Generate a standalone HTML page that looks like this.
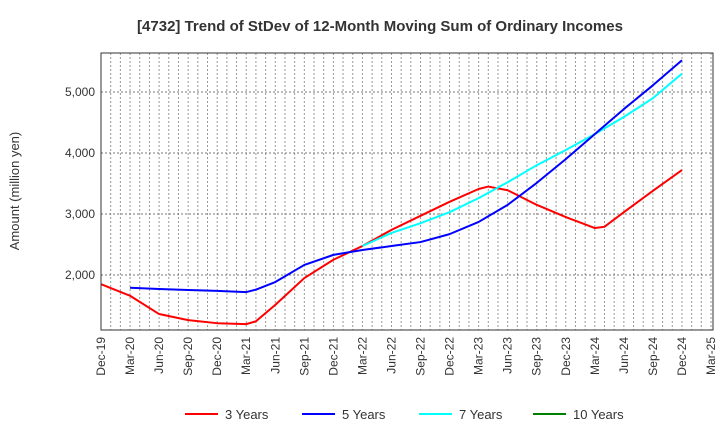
<!DOCTYPE html>
<html><head><meta charset="utf-8"><style>
body{margin:0;background:#fff;font-family:"Liberation Sans",sans-serif;}
</style></head><body>
<svg id="chart" width="720" height="440" xmlns="http://www.w3.org/2000/svg" font-family="Liberation Sans, sans-serif">
<text x="380" y="31" text-anchor="middle" font-size="15" font-weight="bold" fill="#333">[4732]  Trend of StDev of 12-Month Moving Sum of Ordinary Incomes</text>
<text transform="translate(19,191) rotate(-90)" text-anchor="middle" font-size="13" fill="#333">Amount (million yen)</text>
<g id="grid"></g><g id="series"></g><g id="axes"></g><g id="legend"></g>
</svg>
<script>
const xLabels=["Dec-19","Mar-20","Jun-20","Sep-20","Dec-20","Mar-21","Jun-21","Sep-21","Dec-21","Mar-22","Jun-22","Sep-22","Dec-22","Mar-23","Jun-23","Sep-23","Dec-23","Mar-24","Jun-24","Sep-24","Dec-24","Mar-25"];
const yTicks=[2000,3000,4000,5000];
const yTickLabels=["2,000","3,000","4,000","5,000"];
const seriesNames=["3 Years","5 Years","7 Years","10 Years"];
const seriesColors=["#ff0000","#0000ff","#00ffff","#008000"];
// values at quarter indices (0 = Dec-19)
const s3Idx=[0,1,2,3,4,5,5.33,6,7,8,9,10,11,12,12.33,13,14,15,16,16.33,17,18,19];
const s3Val=[1850,1660,1360,1260,1210,1195,1240,1510,1950,2250,2475,2740,2970,3200,3410,3450,3390,3150,2950,2770,2790,3030,3380,3720];
const s3I=[0,1,2,3,4,5,5.33,6,7,8,9,10,11,12,13,13.33,14,15,16,17,17.33,18,19,20];
const s5Idx=[1,2,3,4,5,5.33,6,7,8,9,10,11,12,13,14,15,16,17,18,19,20];
const s5Val=[1790,1770,1755,1740,1720,1760,1885,2165,2330,2410,2475,2540,2670,2870,3150,3510,3900,4310,4720,5110,5520];
const s7Idx=[9,10,11,12,13,14,15,16,17,18,19,20];
const s7Val=[2475,2690,2850,3030,3260,3520,3800,4050,4310,4590,4900,5300];
const L=101,R=713,T=53,B=330;
const xs=i=>L+i*(R-2-L)/21;
const ys=v=>275-(v-2000)*0.061;
const NS="http://www.w3.org/2000/svg";
function mk(t,a,p){const e=document.createElementNS(NS,t);for(const k in a)e.setAttribute(k,a[k]);p.appendChild(e);return e;}
const grid=document.getElementById('grid'),axes=document.getElementById('axes'),ser=document.getElementById('series'),leg=document.getElementById('legend');
for(let m=1;m<64;m++){const x=xs(m/3);const l=mk('line',{x1:x,x2:x,y1:T,y2:B,stroke:'#999','stroke-dasharray':'2,2','stroke-width':1},grid);
}
yTicks.forEach((v,i)=>{const y=ys(v);const l=mk('line',{x1:L,x2:R,y1:y,y2:y,stroke:'#777','stroke-dasharray':'2,2'},grid);

const t=mk('text',{x:L-6,y:y+4,'text-anchor':'end','font-size':12,fill:'#333'},axes);t.textContent=yTickLabels[i];
});
xLabels.forEach((s,i)=>{const x=xs(i);const t=mk('text',{transform:`translate(${x+4},${B+7}) rotate(-90)`,'text-anchor':'end','font-size':12,fill:'#333'},axes);t.textContent=s;
});
const fr=mk('rect',{x:L,y:T,width:R-L,height:B-T,fill:'none',stroke:'#333'},axes);

function line(idx,val,c,name){const p=mk('polyline',{points:idx.map((i,k)=>xs(i)+','+ys(val[k])).join(' '),fill:'none',stroke:c,'stroke-width':2,'stroke-linejoin':'round'},ser);
}
line(s3I,s3Val,seriesColors[0],'line-3-years');
line(s7Idx,s7Val,seriesColors[2],'line-7-years');
line(s5Idx,s5Val,seriesColors[1],'line-5-years');
const lx=[185,302,419,533];
seriesNames.forEach((n,i)=>{const g=mk('g',{},leg);
mk('line',{x1:lx[i],x2:lx[i]+33,y1:414,y2:414,stroke:seriesColors[i],'stroke-width':2},g);
const t=mk('text',{x:lx[i]+40,y:419,'font-size':13,fill:'#333'},g);t.textContent=n;});
</script>
</body></html>
